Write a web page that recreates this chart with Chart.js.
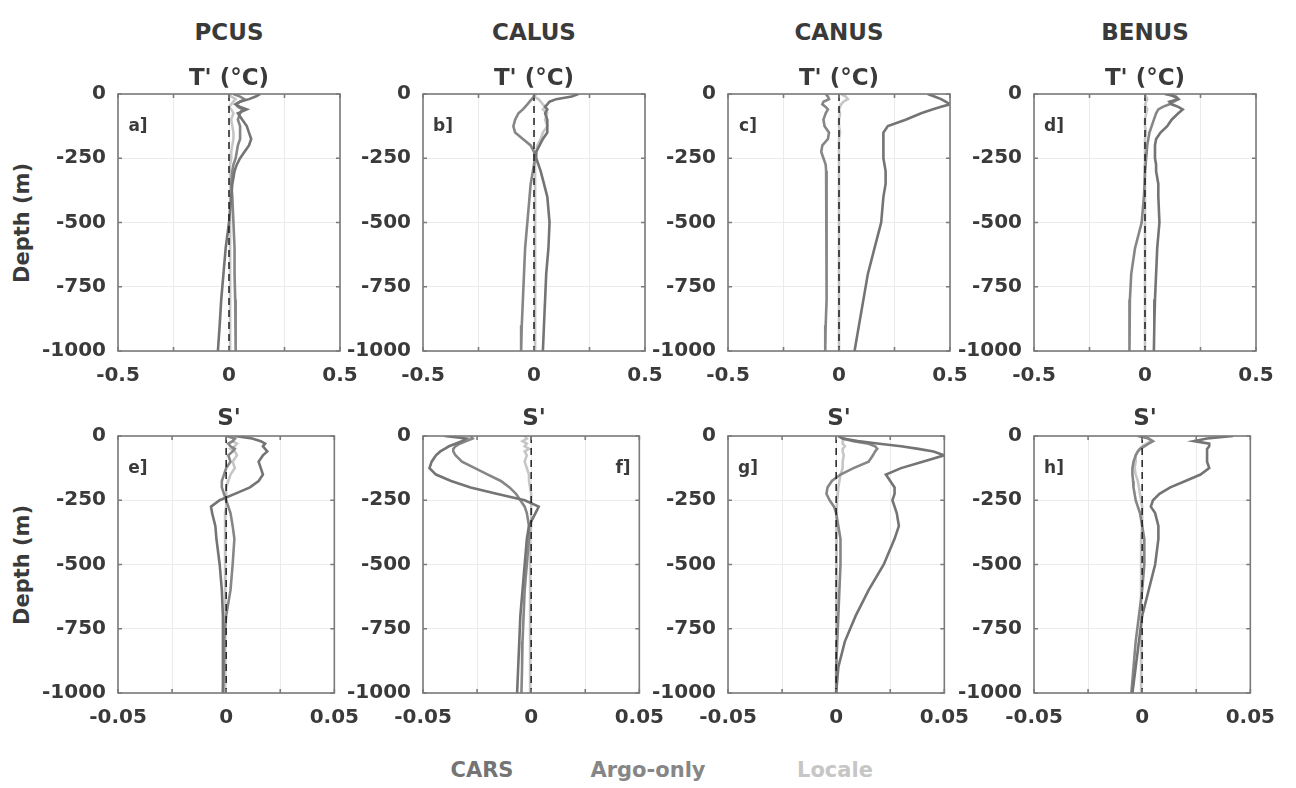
<!DOCTYPE html>
<html>
<head>
<meta charset="utf-8">
<script src="https://cdn.jsdelivr.net/npm/chart.js@4.4.1/dist/chart.umd.min.js"></script>
<style>
  body { margin: 0; background: #fff; width: 1296px; height: 788px; position: relative; overflow: hidden;
         font-family: "DejaVu Sans", "Liberation Sans", Arial, sans-serif; font-weight: bold; color: #3a3a3a; }
  .lbl { position: absolute; white-space: nowrap; transform: translate(-50%, -50%); }
  canvas { position: absolute; }
</style>
</head>
<body>
<script>
// depth levels (m), shared by every profile
const depth = [0, -10, -20, -30, -40, -50, -60, -75, -100, -125, -150, -175, -200, -225, -250, -275, -300, -350, -400, -500, -600, -700, -800, -900, -1000];

const regions = ['PCUS', 'CALUS', 'CANUS', 'BENUS'];
const seriesNames = ['CARS', 'Argo-only', 'Locale'];
const tTicks = ['-0.5', '0', '0.5'];
const sTicks = ['-0.05', '0', '0.05'];
const depthTicks = ['0', '-250', '-500', '-750', '-1000'];

// temperature anomaly T' (°C)
const pcusT_cars   = [0.14, 0.12, 0.09, 0.05, 0.03, 0.05, 0.08, 0.04, 0.06, 0.08, 0.09, 0.1, 0.09, 0.07, 0.05, 0.035, 0.025, 0.015, 0.01, 0.0, -0.015, -0.025, -0.035, -0.042, -0.05];
const pcusT_argo   = [0.02, 0.05, 0.07, 0.05, 0.03, 0.04, 0.06, 0.05, 0.04, 0.05, 0.05, 0.05, 0.04, 0.035, 0.03, 0.02, 0.015, 0.01, 0.015, 0.02, 0.025, 0.025, 0.028, 0.03, 0.03];
const pcusT_locale = [0.0, 0.01, 0.03, 0.02, 0.01, 0.0, 0.01, 0.02, 0.01, 0.015, 0.02, 0.02, 0.015, 0.01, 0.01, 0.005, 0.005, 0.005, 0.005, 0.005, 0.005, 0.005, 0.005, 0.005, 0.005];

const calusT_cars   = [0.2, 0.17, 0.1, 0.07, 0.06, 0.05, 0.06, 0.05, 0.06, 0.06, 0.06, 0.04, 0.025, 0.01, 0.01, 0.02, 0.03, 0.045, 0.06, 0.07, 0.065, 0.055, 0.05, 0.045, 0.04];
const calusT_argo   = [0.0, 0.0, -0.01, -0.02, -0.03, -0.04, -0.05, -0.07, -0.085, -0.093, -0.085, -0.05, -0.015, 0.0, 0.005, 0.0, -0.005, -0.015, -0.02, -0.03, -0.04, -0.045, -0.05, -0.055, -0.058];
const calusT_locale = [0.01, 0.0, 0.02, 0.03, 0.04, 0.05, 0.04, 0.06, 0.05, 0.06, 0.04, 0.03, 0.015, 0.01, 0.005, 0.005, 0.005, 0.005, 0.005, 0.005, 0.005, 0.005, 0.005, 0.005, 0.005];

const canusT_cars   = [0.4, 0.43, 0.46, 0.48, 0.5, 0.46, 0.42, 0.37, 0.3, 0.22, 0.2, 0.2, 0.2, 0.2, 0.2, 0.205, 0.21, 0.21, 0.2, 0.19, 0.16, 0.13, 0.11, 0.09, 0.07];
const canusT_argo   = [-0.06, -0.05, -0.045, -0.07, -0.075, -0.06, -0.05, -0.06, -0.07, -0.065, -0.045, -0.05, -0.075, -0.08, -0.07, -0.06, -0.058, -0.056, -0.055, -0.055, -0.055, -0.056, -0.058, -0.06, -0.062];
const canusT_locale = [0.01, 0.03, 0.04, 0.02, 0.01, 0.005, 0.0, 0.005, 0.0, 0.0, 0.005, 0.0, 0.0, 0.0, 0.0, 0.0, 0.0, 0.0, 0.0, 0.0, 0.0, 0.0, 0.0, 0.0, 0.0];

const benusT_cars   = [0.09, 0.14, 0.15, 0.11, 0.12, 0.15, 0.17, 0.15, 0.12, 0.1, 0.07, 0.05, 0.045, 0.045, 0.045, 0.05, 0.05, 0.06, 0.06, 0.065, 0.055, 0.05, 0.045, 0.042, 0.04];
const benusT_argo   = [0.11, 0.13, 0.15, 0.13, 0.11, 0.08, 0.06, 0.05, 0.04, 0.03, 0.02, 0.015, 0.01, 0.008, 0.005, 0.003, 0.0, -0.002, -0.005, -0.015, -0.045, -0.062, -0.068, -0.07, -0.07];
const benusT_locale = [0.0, 0.005, 0.01, 0.005, 0.0, 0.005, 0.01, 0.005, 0.0, 0.0, 0.005, 0.0, 0.0, 0.0, 0.0, 0.0, 0.0, 0.0, 0.0, 0.0, 0.0, 0.0, 0.0, 0.0, 0.0];

// salinity anomaly S'
const pcusS_cars   = [0.004, 0.012, 0.016, 0.018, 0.017, 0.018, 0.019, 0.017, 0.015, 0.016, 0.017, 0.015, 0.011, 0.004, -0.003, -0.007, -0.0065, -0.005, -0.0045, -0.003, -0.002, -0.0015, -0.0015, -0.0015, -0.0015];
const pcusS_argo   = [0.0, 0.004, 0.003, 0.001, 0.002, 0.004, 0.003, 0.001, 0.002, 0.0, -0.001, -0.002, -0.002, -0.001, 0.0, 0.001, 0.002, 0.003, 0.0038, 0.003, 0.002, 0.0, -0.001, -0.001, -0.0015];
const pcusS_locale = [0.002, 0.004, 0.003, 0.005, 0.004, 0.002, 0.004, 0.005, 0.003, 0.004, 0.002, 0.001, 0.0, 0.0, 0.0, 0.0, -0.0005, -0.0005, -0.0005, -0.0005, -0.0005, -0.0005, -0.0005, -0.0005, -0.0005];

const calusS_cars   = [-0.04, -0.03, -0.032, -0.035, -0.038, -0.04, -0.042, -0.044, -0.046, -0.047, -0.044, -0.037, -0.028, -0.016, -0.003, 0.0035, 0.002, -0.001, -0.002, -0.003, -0.004, -0.005, -0.0055, -0.006, -0.0065];
const calusS_argo   = [-0.028, -0.027, -0.03, -0.033, -0.035, -0.036, -0.036, -0.035, -0.032, -0.026, -0.02, -0.014, -0.01, -0.007, -0.005, -0.003, -0.002, -0.001, -0.001, -0.002, -0.003, -0.0035, -0.004, -0.0042, -0.0045];
const calusS_locale = [-0.003, -0.002, -0.004, -0.002, -0.003, -0.001, -0.003, -0.002, -0.003, -0.002, -0.001, -0.001, -0.0005, 0.0, 0.0, 0.0, 0.0, 0.0, -0.0005, -0.0005, -0.0005, -0.0005, -0.0005, -0.0005, -0.0005];

const canusS_cars   = [0.001, 0.003, 0.01, 0.02, 0.03, 0.038, 0.045, 0.05, 0.04, 0.03, 0.023, 0.025, 0.027, 0.027, 0.026, 0.027, 0.028, 0.029, 0.027, 0.022, 0.015, 0.009, 0.004, 0.001, 0.0];
const canusS_argo   = [0.001, 0.003, 0.008, 0.015, 0.018, 0.019, 0.018, 0.017, 0.015, 0.008, 0.002, -0.002, -0.004, -0.0045, -0.003, -0.001, 0.0, 0.001, 0.002, 0.002, 0.0015, 0.001, 0.0005, 0.0, 0.0];
const canusS_locale = [0.001, 0.004, 0.003, 0.003, 0.004, 0.003, 0.003, 0.0035, 0.003, 0.003, 0.002, 0.0015, 0.001, 0.0008, 0.0005, 0.0003, 0.0003, 0.0002, 0.0002, 0.0001, 0.0, 0.0, 0.0, 0.0, 0.0];

const benusS_cars   = [0.042, 0.03, 0.024, 0.031, 0.031, 0.03, 0.03, 0.03, 0.03, 0.031, 0.027, 0.02, 0.013, 0.008, 0.005, 0.004, 0.006, 0.0075, 0.0075, 0.006, 0.003, 0.0, -0.0015, -0.003, -0.0045];
const benusS_argo   = [-0.002, 0.003, 0.005, 0.003, 0.001, -0.001, -0.002, -0.003, -0.004, -0.0045, -0.0045, -0.0042, -0.004, -0.0035, -0.003, -0.002, -0.001, 0.0, 0.001, 0.001, 0.0, -0.0015, -0.003, -0.004, -0.005];
const benusS_locale = [0.0, 0.003, 0.004, 0.002, 0.0, -0.001, -0.002, -0.003, -0.003, -0.0035, -0.003, -0.002, -0.0015, -0.001, -0.0005, 0.0, 0.0, 0.0, -0.0005, -0.0005, -0.0005, -0.0005, -0.0005, -0.0005, -0.0005];

const panels = [
  { row: 0, col: 0, letter: 'a]', data: [pcusT_cars, pcusT_argo, pcusT_locale] },
  { row: 0, col: 1, letter: 'b]', data: [calusT_cars, calusT_argo, calusT_locale] },
  { row: 0, col: 2, letter: 'c]', data: [canusT_cars, canusT_argo, canusT_locale] },
  { row: 0, col: 3, letter: 'd]', data: [benusT_cars, benusT_argo, benusT_locale] },
  { row: 1, col: 0, letter: 'e]', data: [pcusS_cars, pcusS_argo, pcusS_locale] },
  { row: 1, col: 1, letter: 'f]', data: [calusS_cars, calusS_argo, calusS_locale], right: true },
  { row: 1, col: 2, letter: 'g]', data: [canusS_cars, canusS_argo, canusS_locale] },
  { row: 1, col: 3, letter: 'h]', data: [benusS_cars, benusS_argo, benusS_locale] }
];

const colours = ['#747474', '#868686', '#c6c6c6'];
const textCol = '#3a3a3a';

// layout
const colLeft = [118, 423, 728, 1034];
const rowTop = [94, 436];
const plotW = 222, plotH = 257;
const padL = 80, padT = 30, padR = 32, padB = 40;

function addLabel(text, x, y, size, extra) {
  const d = document.createElement('div');
  d.className = 'lbl';
  d.textContent = text;
  d.style.left = x + 'px';
  d.style.top = y + 'px';
  d.style.fontSize = size + 'px';
  if (extra) Object.assign(d.style, extra);
  document.body.appendChild(d);
}

const boxPlugin = {
  id: 'box',
  afterDatasetsDraw(chart) {
    const { ctx, chartArea: a, scales: { x, y } } = chart;
    ctx.save();
    ctx.strokeStyle = '#7b7b7b';
    ctx.lineWidth = 1.6;
    ctx.strokeRect(a.left, a.top, a.right - a.left, a.bottom - a.top);
    ctx.beginPath();
    x.ticks.forEach(t => {
      const px = x.getPixelForValue(t.value);
      ctx.moveTo(px, a.top); ctx.lineTo(px, a.top + 4);
      ctx.moveTo(px, a.bottom); ctx.lineTo(px, a.bottom - 4);
    });
    y.ticks.forEach(t => {
      const py = y.getPixelForValue(t.value);
      ctx.moveTo(a.left, py); ctx.lineTo(a.left + 4, py);
      ctx.moveTo(a.right, py); ctx.lineTo(a.right - 4, py);
    });
    ctx.stroke();
    ctx.restore();
  }
};

const tickFont = { family: 'DejaVu Sans', size: 20, weight: 'bold' };

panels.forEach(p => {
  const range = p.row === 0 ? 0.5 : 0.05;
  const xl = p.row === 0 ? tTicks : sTicks;
  const cv = document.createElement('canvas');
  cv.width = padL + plotW + padR;
  cv.height = padT + plotH + padB;
  cv.style.left = (colLeft[p.col] - padL) + 'px';
  cv.style.top = (rowTop[p.row] - padT) + 'px';
  document.body.appendChild(cv);

  const datasets = [{
    label: 'zero',
    data: [{ x: 0, y: 0 }, { x: 0, y: -1000 }],
    borderColor: '#1e1e1e', borderWidth: 1.5, borderDash: [7, 5],
    showLine: true, pointRadius: 0
  }];
  p.data.forEach((vals, k) => {
    datasets.push({
      label: seriesNames[k],
      data: depth.map((d, j) => ({ x: vals[j], y: d })),
      borderColor: colours[k], borderWidth: 2.6,
      showLine: true, pointRadius: 0, tension: 0
    });
  });

  new Chart(cv, {
    type: 'scatter',
    data: { datasets: datasets },
    plugins: [boxPlugin],
    options: {
      responsive: false,
      animation: false,
      events: [],
      layout: { padding: { left: 0, top: padT, right: padR, bottom: 0 } },
      plugins: { legend: { display: false }, tooltip: { enabled: false } },
      scales: {
        x: {
          type: 'linear', min: -range, max: range,
          ticks: {
            stepSize: range / 2, autoSkip: false, maxRotation: 0, padding: 13,
            color: textCol, font: tickFont,
            callback: (v, i) => (i % 2 === 0 ? xl[i / 2] : '')
          },
          grid: { color: '#ebebeb', lineWidth: 1, drawTicks: false },
          border: { display: false },
          afterFit: s => { s.height = padB; }
        },
        y: {
          type: 'linear', min: -1000, max: 0,
          ticks: {
            stepSize: 250, autoSkip: false, padding: 12,
            color: textCol, font: tickFont,
            callback: (v, i) => depthTicks[depthTicks.length - 1 - i]
          },
          grid: { color: '#ebebeb', lineWidth: 1, drawTicks: false },
          border: { display: false },
          afterFit: s => { s.width = padL; }
        }
      }
    }
  });

  // panel letter
  const lx = p.right ? colLeft[p.col] + plotW - 22 : colLeft[p.col] + 20;
  addLabel(p.letter, lx, rowTop[p.row] + 31, 17);
});

// column titles and row variable labels
regions.forEach((r, c) => {
  const cx = colLeft[c] + plotW / 2;
  addLabel(r, cx, 32, 23);
  addLabel("T' (\u00B0C)", cx, 77, 23);
  addLabel("S'", cx, 417, 23);
});

// y-axis titles
rowTop.forEach(t => {
  addLabel('Depth (m)', 22, t + plotH / 2, 21, { transform: 'translate(-50%, -50%) rotate(-90deg)' });
});

// legend text
const legendX = [482, 648, 835];
seriesNames.forEach((n, k) => {
  addLabel(n, legendX[k], 770, 21, { color: colours[k] });
});
</script>
</body>
</html>
